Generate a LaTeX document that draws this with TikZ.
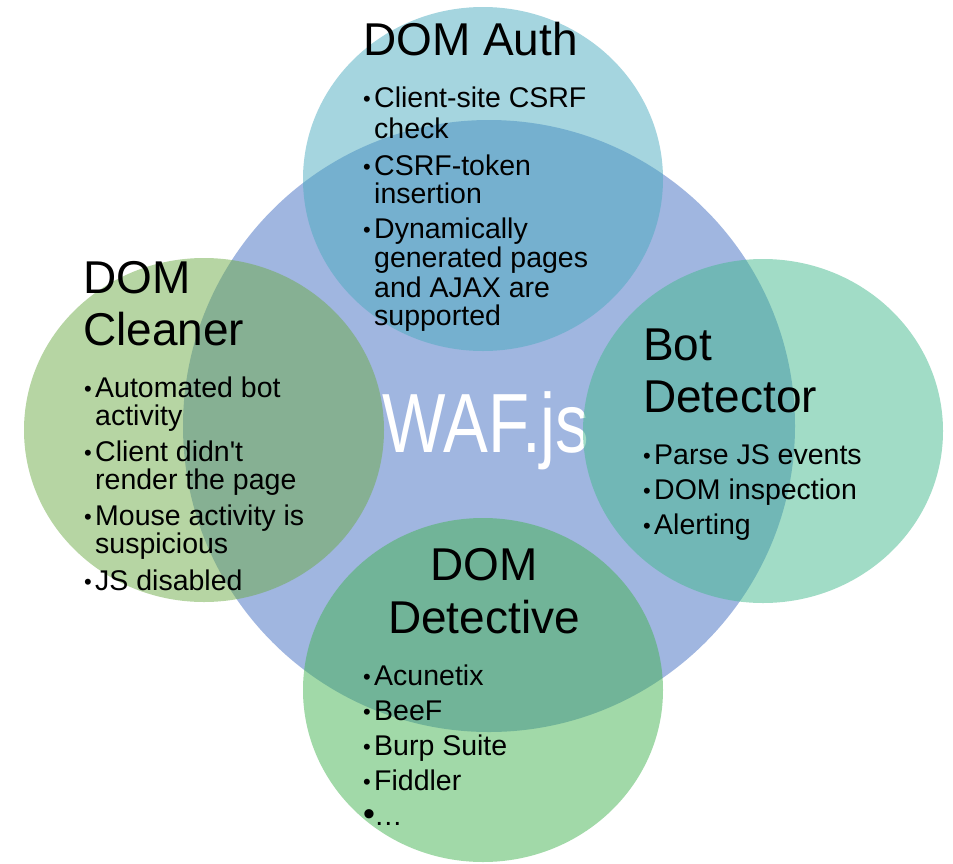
\documentclass[tikz,border=0pt]{standalone}
\usepackage{fontspec}
\setmainfont{Liberation Sans}
\usepackage{graphicx}

\definecolor{wafblue}{RGB}{160,182,224}
\definecolor{authc}{RGB}{75,171,191}
\definecolor{cleanc}{RGB}{109,171,71}
\definecolor{botc}{RGB}{67,185,141}
\definecolor{detc}{RGB}{67,179,81}

% small bullet in a fixed-width box, as in the item lists
\newcommand\bul{\makebox[11pt][l]{\raisebox{1pt}{\fontsize{22}{22}\selectfont\textbullet}}}
\newcommand\bigbul{\makebox[11pt][l]{\fontsize{34}{34}\selectfont\textbullet}}

\begin{document}
\begin{tikzpicture}[x=1pt,y=-1pt,
  title/.style={anchor=base west,inner sep=0pt,font=\fontsize{46}{52}\selectfont},
  item/.style={anchor=base west,inner sep=0pt,font=\fontsize{28.5}{29}\selectfont},
  bubble/.style={fill opacity=0.5}]
\useasboundingbox (0,0) rectangle (953,863);

% central circle and its label
\fill[wafblue] (489,426) circle[radius=306];
\node[anchor=base,inner sep=0pt,text=white,font=\fontsize{84}{84}\selectfont]
  (waf) at (486,452) {\scalebox{0.8}[1]{WAF.js}};

% four translucent component circles
\fill[authc,bubble]  (483,179) ellipse[x radius=180,y radius=172];
\fill[cleanc,bubble] (204,430) ellipse[x radius=180,y radius=172];
\fill[botc,bubble]   (763,431) ellipse[x radius=180,y radius=172];
\fill[detc,bubble]   (483,690) ellipse[x radius=180,y radius=172];

% titles
\node[title] (authT) at (363,55) {DOM Auth};
\node[title] (cleanT1) at (83,293) {DOM};
\node[title] (cleanT2) at (83,345) {Cleaner};
\node[title] (botT1) at (643,360) {Bot};
\node[title] (botT2) at (643,412) {Detector};
\node[title,anchor=base] (detT1) at (484,580) {DOM};
\node[title,anchor=base] (detT2) at (484,633) {Detective};

% DOM Auth items
\foreach \n/\x/\y/\t in {
  a1/363/107/{\bul Client-site CSRF}, a2/374/138/{check},
  a3/363/175/{\bul CSRF-token}, a4/374/203/{insertion},
  a5/363/238/{\bul Dynamically}, a6/374/267/{generated pages},
  a7/374/297/{and AJAX are}, a8/374/325/{supported}}
  \node[item] (\n) at (\x,\y) {\t};

% DOM Cleaner items
\foreach \n/\x/\y/\t in {
  c1/84/397/{\bul Automated bot}, c2/95/425/{activity},
  c3/84/461/{\bul Client didn\textquotesingle t}, c4/95/489/{render the page},
  c5/84/525/{\bul Mouse activity is}, c6/95/553/{suspicious},
  c7/84/590/{\bul JS disabled}}
  \node[item] (\n) at (\x,\y) {\t};

% Bot Detector items
\foreach \n/\x/\y/\t in {
  b1/643/464/{\bul Parse JS events},
  b2/643/499/{\bul DOM inspection},
  b3/643/534/{\bul Alerting}}
  \node[item] (\n) at (\x,\y) {\t};

% DOM Detective items
\foreach \n/\x/\y/\t in {
  d1/363/685/{\bul Acunetix},
  d2/363/720/{\bul BeeF},
  d3/363/755/{\bul Burp Suite},
  d4/363/790/{\bul Fiddler},
  d5/363/825/{\bigbul …}}
  \node[item] (\n) at (\x,\y) {\t};
\end{tikzpicture}
\end{document}
